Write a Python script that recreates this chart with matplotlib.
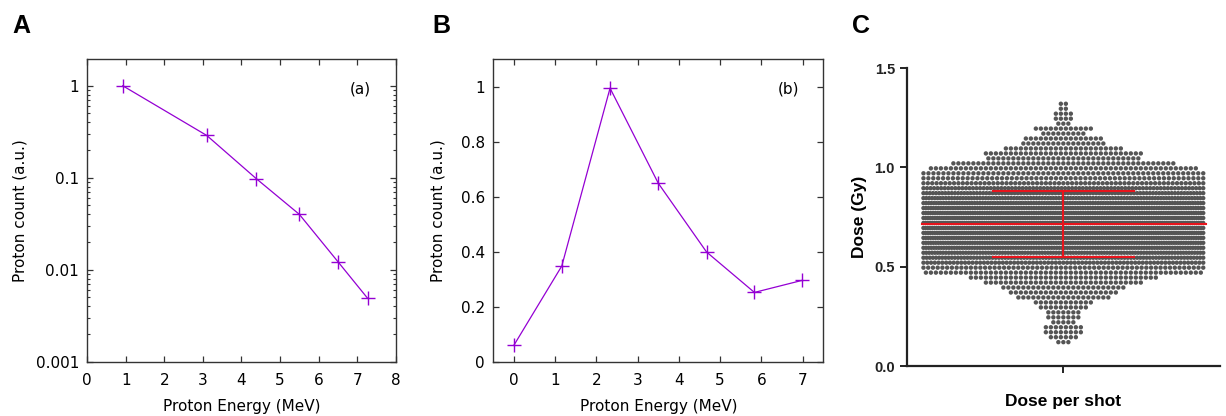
import numpy as np
import matplotlib
matplotlib.use("Agg")
import matplotlib.pyplot as plt
from matplotlib.ticker import LogLocator, NullFormatter

# panel A: log spectrum
energy_a = [0.92, 3.1, 4.38, 5.5, 6.51, 7.27]
count_a = [1.0, 0.288, 0.098, 0.040, 0.0121, 0.0049]

# panel B: linear spectrum
energy_b = [0.0, 1.16, 2.33, 3.5, 4.67, 5.83, 6.99]
count_b = [0.06, 0.348, 0.995, 0.649, 0.399, 0.252, 0.296]

# panel C: dose per shot, grouped by dose level (Gy) -> number of shots
dose_levels = [0.120, 0.145, 0.170, 0.195, 0.220, 0.245, 0.270, 0.295, 0.320, 0.345,
               0.370, 0.395, 0.420, 0.445, 0.470, 0.495, 0.520, 0.545, 0.570, 0.595,
               0.620, 0.645, 0.670, 0.695, 0.720, 0.745, 0.770, 0.795, 0.820, 0.845,
               0.870, 0.895, 0.920, 0.945, 0.970, 0.995, 1.020, 1.045, 1.070, 1.095,
               1.120, 1.145, 1.170, 1.195, 1.220, 1.245, 1.270, 1.295, 1.320]
dose_counts = [3, 6, 8, 8, 5, 7, 7, 10, 12, 19,
               22, 25, 32, 38, 56, 60, 75, 90, 100, 110,
               115, 120, 125, 130, 130, 125, 120, 115, 110, 100,
               90, 80, 65, 58, 57, 54, 45, 31, 32, 24,
               17, 16, 9, 12, 3, 4, 4, 2, 2]
dose_mean = 0.715
dose_sd = 0.168

purple = '#9400D3'
W, H = 1226, 416
fig = plt.figure(figsize=(W / 100, H / 100), dpi=100)


def px_axes(x0, y0, x1, y1):
    return fig.add_axes([x0 / W, 1 - y1 / H, (x1 - x0) / W, (y1 - y0) / H])


def gnuplot_style(ax):
    for s in ax.spines.values():
        s.set_linewidth(1.0)
        s.set_color('#333333')
    ax.tick_params(which='both', direction='in', top=True, right=True,
                   labelsize=11, pad=8, color='#333333')
    ax.tick_params(which='major', length=4.5, width=0.9)
    ax.tick_params(which='minor', length=2.5, width=0.8)


# ---- A ----
axA = px_axes(87.3, 59.3, 395.7, 361.7)
axA.plot(energy_a, count_a, color=purple, lw=0.9, marker='+', ms=10, mew=1.0)
axA.set_yscale('log')
axA.set_xlim(0, 8)
axA.set_ylim(0.001, 1.94)
axA.set_xticks(range(0, 9))
axA.set_yticks([0.001, 0.01, 0.1, 1])
axA.set_yticklabels(['0.001', '0.01', '0.1', '1'])
axA.yaxis.set_minor_locator(LogLocator(base=10, subs=np.arange(2, 10)))
axA.yaxis.set_minor_formatter(NullFormatter())
gnuplot_style(axA)
axA.tick_params(axis='y', pad=6)
axA.set_xlabel('Proton Energy (MeV)', fontsize=11, labelpad=8)
axA.set_ylabel('Proton count (a.u.)', fontsize=11, labelpad=6)
axA.text(0.884, 0.902, '(a)', transform=axA.transAxes, fontsize=11,
         ha='center', va='center')

# ---- B ----
axB = px_axes(493.3, 59.3, 823.3, 361.7)
axB.plot(energy_b, count_b, color=purple, lw=0.9, marker='+', ms=10, mew=1.0)
axB.set_xlim(-0.5, 7.5)
axB.set_ylim(0, 1.1)
axB.set_xticks(range(0, 8))
axB.set_yticks([0, 0.2, 0.4, 0.6, 0.8, 1.0])
axB.set_yticklabels(['0', '0.2', '0.4', '0.6', '0.8', '1'])
gnuplot_style(axB)
axB.tick_params(axis='y', pad=6)
axB.set_xlabel('Proton Energy (MeV)', fontsize=11, labelpad=8)
axB.set_ylabel('Proton count (a.u.)', fontsize=11, labelpad=11)
axB.text(0.895, 0.902, '(b)', transform=axB.transAxes, fontsize=11,
         ha='center', va='center')

# ---- C ----
axC = px_axes(906.7, 68, 1220, 366)
axC.set_xlim(-1, 1)
axC.set_ylim(0, 1.5)
# swarm layout: rows centred on 0, squeezed when wider than the column
step = 5.0 / 156.7
half_max = 0.893
xs, ys = [], []
for d, n in zip(dose_levels, dose_counts):
    if n == 1:
        pos = np.array([0.0])
    else:
        sp = min(step, 2 * half_max / (n - 1))
        pos = (np.arange(n) - (n - 1) / 2) * sp
    xs.extend(pos)
    ys.extend([d] * n)
axC.scatter(xs, ys, s=10, color='#555555', edgecolors='none', zorder=2)

red = '#e8141c'
axC.plot([-0.904, 0.913], [dose_mean, dose_mean], color=red, lw=1.5, zorder=3)
axC.plot([0, 0], [dose_mean - dose_sd, dose_mean + dose_sd], color=red, lw=1.5, zorder=3)
for v in (dose_mean - dose_sd, dose_mean + dose_sd):
    axC.plot([-0.45, 0.45], [v, v], color=red, lw=1.5, zorder=3)

for side in ('top', 'right'):
    axC.spines[side].set_visible(False)
for side in ('left', 'bottom'):
    axC.spines[side].set_linewidth(1.6)
    axC.spines[side].set_color('#222222')
axC.set_xticks([0])
axC.set_xticklabels([''])
axC.set_yticks([0.0, 0.5, 1.0, 1.5])
axC.set_yticklabels(['0.0', '0.5', '1.0', '1.5'], fontweight='bold')
axC.tick_params(direction='out', length=5, width=1.4, labelsize=10.5,
                colors='#222222')
axC.set_xlabel('Dose per shot', fontsize=12.5, fontweight='bold',
               family='Liberation Sans', labelpad=12)
axC.set_ylabel('Dose (Gy)', fontsize=12.5, fontweight='bold',
               family='Liberation Sans', labelpad=5)
for lab in axC.get_yticklabels():
    lab.set_family('Liberation Sans')

# panel letters
for x, letter in [(12, 'A'), (432, 'B'), (852, 'C')]:
    fig.text(x / W, 1 - 33 / H, letter, fontsize=18, fontweight='bold',
             family='Liberation Sans', ha='left', va='baseline')

fig.savefig('out.png', dpi=100)
